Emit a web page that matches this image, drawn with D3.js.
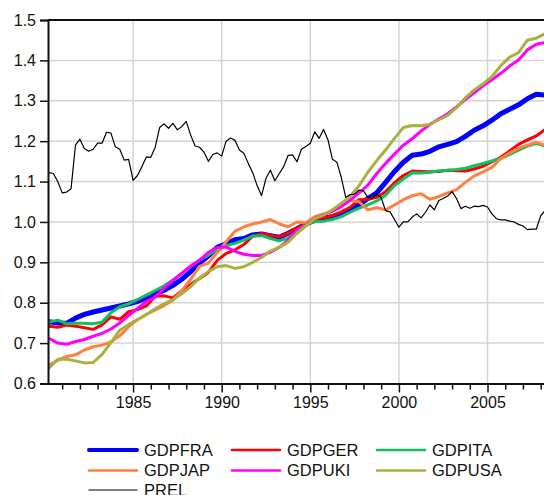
<!DOCTYPE html>
<html>
<head>
<meta charset="utf-8">
<script src="https://cdn.jsdelivr.net/npm/d3@7"></script>
<style>
  html, body { margin: 0; padding: 0; background: #fff; }
  svg { display: block; font-family: "Liberation Sans", Arial, sans-serif; }
</style>
</head>
<body>
<svg id="chart" width="544" height="495"></svg>
<script>
// ---- data ----
const xTickYears = [1985, 1990, 1995, 2000, 2005];
const yTickValues = [0.6, 0.7, 0.8, 0.9, 1.0, 1.1, 1.2, 1.3, 1.4, 1.5];
const seriesNames = ["GDPFRA", "GDPGER", "GDPITA", "GDPJAP", "GDPUKI", "GDPUSA", "PREL"];

// half-yearly observation dates for the GDP series, quarterly for PREL
const gdpStart = 1980.25, gdpStep = 0.5;
const prelStart = 1980.25, prelStep = 0.25;

const GDPFRA = [0.753,0.750,0.749,0.762,0.771,0.777,0.782,0.787,0.792,0.797,
  0.803,0.812,0.822,0.831,0.843,0.858,0.877,0.898,0.916,0.937,
  0.946,0.956,0.959,0.968,0.970,0.966,0.962,0.972,0.983,0.995,
  1.004,1.009,1.013,1.019,1.030,1.042,1.058,1.072,1.098,1.125,
  1.148,1.165,1.168,1.175,1.186,1.192,1.199,1.212,1.227,1.238,
  1.252,1.268,1.279,1.290,1.305,1.316,1.314];
const GDPGER = [0.742,0.739,0.745,0.742,0.738,0.734,0.745,0.765,0.759,0.778,
  0.783,0.792,0.816,0.817,0.812,0.830,0.845,0.860,0.875,0.905,
  0.922,0.931,0.944,0.965,0.971,0.967,0.963,0.972,0.985,0.996,
  1.008,1.010,1.016,1.025,1.036,1.055,1.056,1.061,1.075,1.097,
  1.115,1.126,1.125,1.124,1.125,1.128,1.127,1.126,1.131,1.138,
  1.149,1.160,1.176,1.192,1.203,1.213,1.229];
const GDPITA = [0.752,0.757,0.748,0.749,0.749,0.748,0.752,0.775,0.790,0.797,
  0.808,0.819,0.830,0.842,0.856,0.872,0.890,0.906,0.918,0.933,
  0.941,0.947,0.955,0.965,0.966,0.959,0.953,0.960,0.978,0.994,
  1.001,1.002,1.006,1.013,1.024,1.034,1.042,1.052,1.066,1.090,
  1.106,1.122,1.121,1.123,1.127,1.128,1.130,1.133,1.139,1.145,
  1.151,1.157,1.167,1.178,1.188,1.194,1.188];
const GDPJAP = [0.646,0.657,0.667,0.671,0.683,0.691,0.695,0.703,0.718,0.740,
  0.758,0.771,0.782,0.793,0.806,0.830,0.858,0.890,0.898,0.924,
  0.951,0.977,0.988,0.995,1.000,1.006,0.995,0.988,1.000,0.998,
  1.013,1.020,1.027,1.039,1.053,1.050,1.030,1.035,1.030,1.042,
  1.055,1.065,1.070,1.056,1.063,1.072,1.080,1.098,1.114,1.124,
  1.135,1.157,1.171,1.182,1.190,1.197,1.190];
const GDPUKI = [0.712,0.700,0.697,0.704,0.709,0.717,0.724,0.735,0.750,0.768,
  0.786,0.803,0.814,0.836,0.855,0.873,0.891,0.905,0.925,0.937,
  0.938,0.927,0.920,0.917,0.917,0.925,0.937,0.955,0.978,0.992,
  1.008,1.018,1.027,1.038,1.054,1.072,1.091,1.120,1.145,1.168,
  1.190,1.206,1.225,1.241,1.255,1.268,1.285,1.303,1.320,1.337,
  1.352,1.368,1.386,1.401,1.426,1.440,1.444];
const GDPUSA = [0.638,0.660,0.660,0.656,0.651,0.652,0.672,0.701,0.732,0.746,
  0.758,0.771,0.785,0.797,0.808,0.822,0.840,0.861,0.877,0.889,
  0.892,0.885,0.889,0.900,0.912,0.928,0.937,0.950,0.972,0.990,
  1.008,1.017,1.030,1.046,1.063,1.090,1.123,1.152,1.178,1.207,
  1.234,1.239,1.238,1.242,1.253,1.264,1.283,1.307,1.327,1.342,
  1.360,1.387,1.408,1.419,1.450,1.455,1.466];
const PREL = [1.122,1.120,1.100,1.072,1.074,1.082,1.190,1.205,1.182,1.175,
  1.180,1.195,1.195,1.222,1.220,1.186,1.180,1.153,1.155,1.103,
  1.115,1.137,1.161,1.160,1.185,1.234,1.243,1.232,1.244,1.228,
  1.236,1.249,1.215,1.188,1.185,1.173,1.150,1.167,1.171,1.163,
  1.200,1.208,1.202,1.178,1.170,1.145,1.122,1.090,1.065,1.108,
  1.128,1.102,1.120,1.137,1.165,1.166,1.149,1.180,1.187,1.195,
  1.223,1.207,1.229,1.203,1.155,1.148,1.110,1.061,1.068,1.069,
  1.079,1.077,1.061,1.058,1.069,1.060,1.028,1.025,1.006,0.987,
  1.000,1.000,1.012,1.020,1.010,1.024,1.042,1.030,1.053,1.058,
  1.064,1.075,1.058,1.033,1.039,1.034,1.039,1.038,1.041,1.037,
  1.020,1.008,1.005,1.005,1.002,1.000,0.994,0.990,0.981,0.982,
  0.982,1.015,1.029];

const seriesColors = ["#0000ff", "#ff0000", "#10c060", "#ff8040", "#ff00ff", "#a8b040", "#000000"];
const seriesWidths = [5, 3, 3, 3, 3, 3, 1.2];

// ---- build ----
const W = 544, H = 495;
const plot = { left: 48, right: 546, top: 20, bottom: 383.5 };
const svg = d3.select("#chart");

const x = d3.scaleLinear().domain([1980.2, 2008.3]).range([plot.left, plot.right]);
const y = d3.scaleLinear().domain([0.6, 1.5]).range([plot.bottom, plot.top]);

const seriesValues = [GDPFRA, GDPGER, GDPITA, GDPJAP, GDPUKI, GDPUSA, PREL];
const series = seriesNames.map((name, k) => {
  const vals = seriesValues[k];
  const isPrel = name === "PREL";
  const start = isPrel ? prelStart : gdpStart;
  const step = isPrel ? prelStep : gdpStep;
  return {
    name, color: seriesColors[k], width: seriesWidths[k],
    points: vals.map((v, i) => ({ t: start + i * step, v }))
  };
});

// grid
const grid = svg.append("g");
grid.selectAll("line.h").data(yTickValues.filter(v => v > 0.6 && v < 1.5)).join("line")
  .attr("x1", plot.left).attr("x2", plot.right)
  .attr("y1", d => y(d)).attr("y2", d => y(d))
  .attr("stroke", "#d4d4d4").attr("stroke-width", 1.5);
grid.selectAll("line.v").data(xTickYears).join("line")
  .attr("x1", d => x(d)).attr("x2", d => x(d))
  .attr("y1", plot.top).attr("y2", plot.bottom)
  .attr("stroke", "#d4d4d4").attr("stroke-width", 1.5);

// clip
svg.append("clipPath").attr("id", "clip").append("rect")
  .attr("x", plot.left).attr("y", plot.top)
  .attr("width", plot.right - plot.left).attr("height", plot.bottom - plot.top);

const line = d3.line().x(d => x(d.t)).y(d => y(d.v));
const lines = svg.append("g").attr("clip-path", "url(#clip)");
lines.selectAll("path").data(series).join("path")
  .attr("d", d => line(d.points))
  .attr("fill", "none")
  .attr("stroke", d => d.color)
  .attr("stroke-width", d => d.width)
  .attr("stroke-linejoin", "round")
  .attr("stroke-linecap", "round");

// frame (top)
svg.append("line").attr("x1", plot.left).attr("x2", plot.right)
  .attr("y1", plot.top).attr("y2", plot.top)
  .attr("stroke", "#111").attr("stroke-width", 2);

// y axis
const yAxis = svg.append("g").attr("transform", `translate(${plot.left},0)`)
  .call(d3.axisLeft(y).tickValues(yTickValues).tickFormat(d3.format(".1f")).tickSize(8).tickPadding(4));
yAxis.select(".domain").attr("stroke", "#111").attr("stroke-width", 2);
yAxis.selectAll(".tick line").attr("stroke", "#111").attr("stroke-width", 1.5);
yAxis.selectAll(".tick text").attr("font-size", 16).attr("fill", "#111")
  .attr("font-family", "Liberation Sans, Arial, sans-serif");

// x axis: minor yearly ticks
const minorYears = d3.range(1981, 2009).filter(v => !xTickYears.includes(v));
const xMinor = svg.append("g").attr("transform", `translate(0,${plot.bottom})`)
  .call(d3.axisBottom(x).tickValues(minorYears).tickSize(6).tickFormat(""));
xMinor.select(".domain").remove();
xMinor.selectAll(".tick line").attr("stroke", "#111").attr("stroke-width", 1.5);

const xAxis = svg.append("g").attr("transform", `translate(0,${plot.bottom})`)
  .call(d3.axisBottom(x).tickValues(xTickYears).tickFormat(d3.format("d")).tickSize(9).tickSizeOuter(0).tickPadding(4));
xAxis.select(".domain").attr("stroke", "#111").attr("stroke-width", 2);
xAxis.selectAll(".tick line").attr("stroke", "#111").attr("stroke-width", 1.5);
xAxis.selectAll(".tick text").attr("font-size", 16).attr("fill", "#111")
  .attr("font-family", "Liberation Sans, Arial, sans-serif");

// legend
const legCols = [89, 232, 377];
const legRows = [450, 470.5, 490];
const legend = svg.append("g");
const items = legend.selectAll("g").data(series).join("g")
  .attr("transform", (d, i) => `translate(${legCols[i % 3]},${legRows[Math.floor(i / 3)]})`);
items.append("line").attr("x1", 0).attr("x2", 48).attr("y1", 0).attr("y2", 0)
  .attr("stroke", d => d.color)
  .attr("stroke-width", d => d.name === "GDPFRA" ? 4 : (d.name === "PREL" ? 1.2 : 2.5))
  .attr("stroke-linecap", "round");
items.append("text").attr("x", 55).attr("y", 0).attr("dy", "0.36em")
  .attr("font-size", 16.5).attr("fill", "#111").text(d => d.name);
</script>
</body>
</html>
